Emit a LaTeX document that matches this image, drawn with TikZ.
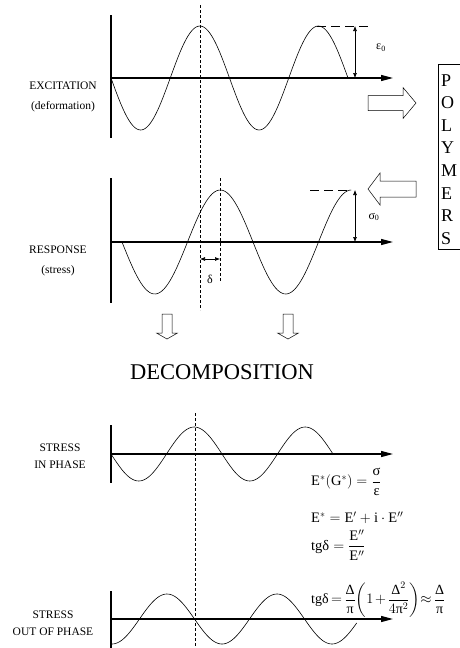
\documentclass[tikz,border=0pt]{standalone}
\usepackage{amsmath}
\usepackage{fontspec}
\setmainfont{Liberation Serif}
\usetikzlibrary{arrows.meta,positioning}

\begin{document}
\begin{tikzpicture}[x=1pt,y=-1pt,
  axis/.style={line width=1.3pt,-{Triangle[length=12pt,width=6pt]}},
  yaxis/.style={line width=2pt},
  wave/.style={line width=0.6pt},
  guide/.style={line width=0.5pt,dash pattern=on 3pt off 2pt},
  peakline/.style={line width=0.6pt,dash pattern=on 9pt off 5pt},
  amp/.style={line width=0.6pt,{Latex[length=5pt,width=4pt]}-{Latex[length=5pt,width=4pt]}},
  hollow/.style={draw,line width=0.5pt,fill=white},
  sidetext/.style={align=center,inner sep=0pt,font=\fontsize{11.5}{20}\selectfont},
  sidetextb/.style={align=center,inner sep=0pt,font=\fontsize{11.5}{17}\selectfont},
  symb/.style={inner sep=0pt,font=\fontsize{12}{14}\selectfont},
  formula/.style={anchor=west,inner sep=0pt,font=\fontsize{14.5}{17}\selectfont},
  letter/.style={anchor=base west,inner sep=0pt,font=\fontsize{18}{20}\selectfont}
]
\useasboundingbox (0,0) rectangle (460,648);

% excitation
\node[sidetext] (excitation) at (63,97) {EXCITATION\\(deformation)};
\draw[yaxis] (111,15) -- (111,138);
\coordinate (exO) at (111,78);
\draw[axis] (exO) -- (393,78);
\draw[wave] plot[domain=0:2,samples=121] ({111+118.5*\x},{78+52*sin(360*\x)});
\draw[guide] (200,5) -- (200,310);
\draw[peakline] (317,26) -- (370,26);
\coordinate (epstop) at (355,26);
\coordinate (epsbot) at (355,78);
\draw[amp] (epstop) -- (epsbot);
\node[symb] (eps) at (381,48) {ε\textsubscript{0}};

% response
\node[sidetext] (response) at (58,261) {RESPONSE\\(stress)};
\draw[yaxis] (111,178) -- (111,303);
\coordinate (reO) at (111,242);
\draw[axis] (reO) -- (393,242);
\draw[wave] plot[domain=0:1.75,samples=110] ({122+131*\x},{242+52*sin(360*\x)});
\draw[guide] (220,178) -- (220,281);
\draw[peakline] (310,190) -- (348,190);
\coordinate (sigtop) at (355,190);
\coordinate (sigbot) at (355,242);
\draw[amp] (sigtop) -- (sigbot);
\node[symb] (sig) at (374,217) {σ\textsubscript{0}};
\coordinate (dl) at (200,259);
\coordinate (dr) at (220,259);
\draw[amp] (dl) -- (dr);
\node[symb] (delta) at (210,279) {δ};

% polymers
\draw[line width=0.6pt] (438,64) rectangle (470,249);
\foreach \ch [count=\i from 0] in {P,O,L,Y,M,E,R,S}
  \node[letter] (poly\i) at (441,{86+22.6*\i}) {\ch};
\draw[hollow] (368,95.5) -- (403,95.5) -- (403,87.5) -- (416,103)
  -- (403,118.5) -- (403,110.5) -- (368,110.5) -- cycle;
\draw[hollow] (416,181) -- (380,181) -- (380,173) -- (368,189)
  -- (380,205) -- (380,197) -- (416,197) -- cycle;

% decomposition
\foreach \cx in {167,288}
  \draw[hollow] ({\cx-5},314) -- ({\cx+5},314) -- ({\cx+5},333) -- ({\cx+10.5},333)
    -- (\cx,339) -- ({\cx-10.5},333) -- ({\cx-5},333) -- cycle;
\node[font=\fontsize{22.5}{26}\selectfont] (decomp) at (222,372) {DECOMPOSITION};

% in phase
\node[sidetextb] (inphase) at (60,456) {STRESS\\IN PHASE};
\draw[yaxis] (111,425) -- (111,483);
\draw[axis] (111,454) -- (393,454);
\draw[wave] plot[domain=0:2,samples=121] ({111+111*\x},{454+27*sin(360*\x)});
\draw[guide] (195,413) -- (195,648);

% out of phase
\node[sidetextb] (outphase) at (53,623) {STRESS\\OUT OF PHASE};
\draw[yaxis] (111,591) -- (111,648);
\draw[axis] (111,619) -- (393,619);
\draw[wave] plot[domain=0:2.227,samples=140] ({112+110*\x},{619+25*cos(360*\x)});

% moduli
\node[formula] (f1) at (311,482) {$\mathrm{E}^{*}\!\left(\mathrm{G}^{*}\right)=\dfrac{\text{σ}}{\text{ε}}$};
\node[formula] (f2) at (311,518) {$\mathrm{E}^{*}=\mathrm{E}'+\mathrm{i}\cdot\mathrm{E}''$};
\node[formula] (f3) at (311,545) {$\mathrm{tg}\text{δ}=\dfrac{\mathrm{E}''}{\mathrm{E}''}$};
\node[formula,font=\fontsize{14}{17}\selectfont] (f4) at (311,600)
  {$\mathrm{tg}\text{δ}\mkern-2mu=\mkern-2mu\dfrac{\text{Δ}}{\text{π}}\!\left(1\mkern-2mu+\mkern-2mu\dfrac{\text{Δ}^{2}}{4\text{π}^{2}}\right)\!\mkern-2mu\approx\mkern-2mu\dfrac{\text{Δ}}{\text{π}}$};
\end{tikzpicture}
\end{document}
